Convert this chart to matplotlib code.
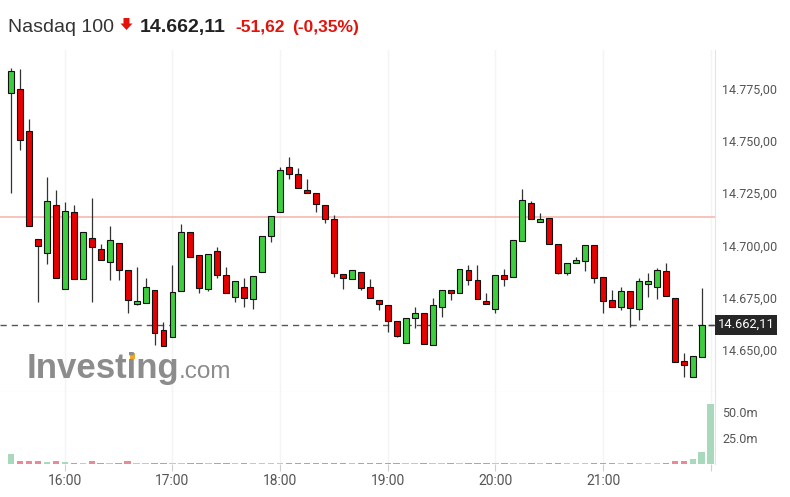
import matplotlib
matplotlib.use('Agg')
import matplotlib.pyplot as plt
import matplotlib.transforms as mtransforms
from matplotlib.patches import Polygon, Rectangle
import numpy as np

# 5-minute candles, 15:30 .. 22:00
opens = [14772.9, 14774.7, 14754.6, 14703.0, 14696.5, 14719.2, 14679.0, 14715.8, 14683.8, 14703.6,
         14698.2, 14692.2, 14701.0, 14688.2, 14672.0, 14672.6, 14678.6, 14659.5, 14656.1, 14678.0,
         14706.5, 14695.4, 14679.0, 14697.1, 14685.8, 14675.4, 14679.9, 14674.2, 14687.4, 14704.3,
         14716.0, 14737.3, 14734.1, 14726.4, 14725.1, 14719.2, 14712.6, 14686.3, 14683.8, 14687.1,
         14680.2, 14673.9, 14671.5, 14663.7, 14653.5, 14665.4, 14667.8, 14652.2, 14670.7, 14678.6,
         14677.4, 14688.2, 14683.4, 14673.5, 14669.7, 14685.7, 14685.0, 14702.2, 14720.3, 14711.3,
         14713.2, 14700.6, 14686.9, 14691.7, 14692.6, 14700.0, 14685.0, 14673.9, 14670.7, 14678.0,
         14669.4, 14681.4, 14680.2, 14687.7, 14675.0, 14644.7, 14637.2, 14646.8, 14662.11]
highs = [14784.5, 14784.1, 14760.2, 14703.0, 14732.8, 14726.3, 14720.7, 14719.1, 14706.2, 14722.6,
         14700.5, 14709.4, 14701.0, 14688.2, 14689.6, 14684.2, 14678.6, 14663.4, 14690.4, 14710.2,
         14706.5, 14695.4, 14695.8, 14699.3, 14689.6, 14682.9, 14684.2, 14685.2, 14704.3, 14714.0,
         14737.3, 14742.3, 14736.8, 14731.5, 14725.1, 14719.2, 14714.5, 14686.3, 14688.2, 14687.1,
         14683.8, 14673.9, 14671.5, 14663.7, 14665.4, 14670.7, 14667.8, 14674.7, 14678.6, 14678.6,
         14688.7, 14690.6, 14690.6, 14677.1, 14685.7, 14688.5, 14702.4, 14726.7, 14721.3, 14715.3,
         14713.2, 14700.6, 14691.7, 14694.6, 14700.0, 14700.0, 14685.0, 14678.6, 14680.2, 14678.0,
         14684.2, 14686.6, 14689.0, 14691.7, 14675.0, 14648.4, 14647.1, 14679.6, 14662.11]
lows = [14725.1, 14745.5, 14709.4, 14673.1, 14691.2, 14684.2, 14679.0, 14683.8, 14683.8, 14672.8,
        14693.0, 14683.4, 14683.4, 14667.5, 14671.5, 14672.6, 14652.4, 14651.9, 14656.1, 14678.0,
        14694.6, 14677.1, 14678.2, 14684.2, 14677.4, 14672.8, 14670.7, 14669.7, 14687.4, 14701.4,
        14716.0, 14731.8, 14727.4, 14725.1, 14716.0, 14710.5, 14685.0, 14679.3, 14683.8, 14678.6,
        14674.8, 14669.1, 14658.7, 14656.1, 14653.5, 14660.6, 14652.9, 14652.2, 14665.9, 14673.9,
        14677.4, 14680.9, 14674.5, 14672.0, 14667.8, 14680.6, 14685.0, 14702.2, 14712.6, 14711.3,
        14700.5, 14686.3, 14685.7, 14691.7, 14687.7, 14681.8, 14667.8, 14670.7, 14669.1, 14661.1,
        14664.3, 14675.4, 14674.5, 14675.9, 14644.4, 14637.0, 14637.2, 14646.8, 14662.11]
closes = [14783.3, 14750.3, 14709.4, 14699.8, 14721.0, 14684.2, 14716.2, 14683.8, 14706.2, 14699.3,
          14693.0, 14702.4, 14688.1, 14673.7, 14673.3, 14679.9, 14658.3, 14651.9, 14677.6, 14706.2,
          14694.6, 14679.7, 14695.8, 14685.7, 14677.4, 14682.9, 14674.8, 14685.2, 14704.3, 14714.0,
          14736.0, 14734.1, 14727.4, 14725.1, 14719.7, 14712.6, 14686.9, 14684.2, 14688.2, 14679.6,
          14674.8, 14672.0, 14664.0, 14656.8, 14665.4, 14667.8, 14652.9, 14671.3, 14678.6, 14677.4,
          14688.7, 14683.4, 14674.5, 14672.0, 14685.7, 14683.8, 14702.4, 14721.5, 14712.6, 14712.6,
          14700.5, 14686.9, 14691.7, 14693.0, 14700.0, 14684.4, 14673.3, 14670.7, 14678.0, 14670.1,
          14682.8, 14682.8, 14688.2, 14675.9, 14644.4, 14642.7, 14647.1, 14662.11, 14662.11]
# volume in millions
volumes = [9.6, 2.6, 2.6, 2.6, 2.0, 2.6, 2.0, 0.8, 0.7, 2.6,
           0.7, 0.7, 0.7, 2.6, 0.8, 0.7, 0.8, 0.8, 0.7, 0.8,
           0.7, 0.8, 0.7, 0.8, 0.8, 0.7, 0.7, 0.8, 0.7, 0.7,
           0.8, 0.7, 0.8, 0.7, 0.8, 0.8, 0.9, 0.7, 0.7, 0.8,
           0.8, 0.7, 0.8, 0.8, 0.7, 0.7, 0.8, 0.8, 0.7, 0.7,
           0.8, 0.8, 0.8, 0.7, 0.7, 0.7, 0.8, 0.8, 0.8, 0.7,
           0.8, 0.8, 0.7, 0.7, 0.7, 0.8, 0.8, 0.7, 0.7, 0.8,
           0.7, 0.7, 0.8, 0.9, 2.6, 2.6, 5.1, 11.5, 57.4]

last_price = 14662.11
prev_close = 14713.73
price_ticks = [14650, 14675, 14700, 14725, 14750, 14775]
hour_idx = [6, 18, 30, 42, 54, 66, 78]
hour_labels = ['16:00', '17:00', '18:00', '19:00', '20:00', '21:00', '']
vol_ticks = [25, 50]
vol_labels = ['25.0m', '50.0m']

GREEN = '#3dce3d'
RED = '#e60000'
VGREEN = '#a8d9bd'
VRED = '#e88a9a'
W, H = 790, 497

def fx(px):
    return px / W

def fy(py):
    return 1 - py / H

def de_fmt(v):
    return f'{v:,.2f}'.replace(',', 'X').replace('.', ',').replace('X', '.')

o = np.array(opens)
h = np.array(highs)
l = np.array(lows)
c = np.array(closes)
x = np.arange(len(o))
up = c >= o

fig = plt.figure(figsize=(7.9, 4.97), dpi=100)
ax = fig.add_axes([0, fy(392), fx(715), fy(50) - fy(392)])
axv = fig.add_axes([0, fy(464), fx(715), fy(392) - fy(464)])

for a in (ax, axv):
    a.set_xlim(-1.226, 78.48)
    for s in ('top', 'left'):
        a.spines[s].set_visible(False)
    a.spines['right'].set_color('#e4e4e4')
    for i in hour_idx:
        a.axvline(i, color='#f4f4f4', lw=1, zorder=0)

ax.spines['bottom'].set_color('#cccccc')
axv.spines['bottom'].set_visible(False)
ax.set_ylim(14629.9, 14793.3)

# candles
ax.vlines(x, l, h, color='#333333', lw=0.9, zorder=2)
body_lo = np.minimum(o, c)
body_h = np.maximum(np.abs(c - o), 0.6)
colors = np.where(up, GREEN, RED)
ax.bar(x[:-1], body_h[:-1], bottom=body_lo[:-1], width=0.66,
       color=colors[:-1], edgecolor='#111111', linewidth=0.8, zorder=3)
ax.hlines(c[-1], x[-1] - 0.33, x[-1] + 0.33, color='#444444', lw=1, zorder=3)

ax.axhline(prev_close, color='#f6b8b0', lw=1.2, zorder=1)
ax.axhline(last_price, color='#555555', lw=1, dashes=(4.5, 3.6), zorder=1)

ax.set_xticks([])
ax.yaxis.tick_right()
ax.set_yticks(price_ticks)
ax.set_yticklabels([de_fmt(v) for v in price_ticks])
ax.tick_params(axis='y', length=0, pad=5, labelsize=9, labelcolor='#555555')
for t in ax.get_yticklabels():
    t.set_family('Roboto')

# last price tag
blend = mtransforms.blended_transform_factory(ax.transAxes, ax.transData)
ax.add_patch(Rectangle((1.0, last_price - 4.8), 62 / 715, 9.6, transform=blend,
                       facecolor='#262626', edgecolor='none', clip_on=False, zorder=5))
ax.text(1.0 + 31 / 715, last_price, de_fmt(last_price), transform=blend, ha='center', va='center',
        color='white', fontsize=9.3, family='Roboto', zorder=6, clip_on=False)

# volume
vcol = np.where(up, VGREEN, VRED)
vcol[-1] = VGREEN
axv.bar(x, volumes, width=0.72, color=vcol, zorder=2)
axv.set_ylim(0, 69.2)
axv.yaxis.tick_right()
axv.set_yticks(vol_ticks)
axv.set_yticklabels(vol_labels)
axv.tick_params(axis='y', length=0, pad=5, labelsize=9, labelcolor='#555555')
axv.set_xticks(hour_idx)
axv.set_xticklabels(hour_labels)
axv.tick_params(axis='x', length=5, color='#d0d0d0', pad=2.5, labelsize=10, labelcolor='#555555')
for t in axv.get_yticklabels() + axv.get_xticklabels():
    t.set_family('Roboto')

# header
base = fy(32)
fig.text(fx(8), base, 'Nasdaq 100', fontsize=14, color='#333333', family='Liberation Sans', va='baseline')
arrow = [(123.5, 18), (129.5, 18), (129.5, 23.5), (132.5, 23.5), (126.5, 30), (120.5, 23.5), (123.5, 23.5)]
fig.patches.append(Polygon([(fx(px), fy(py)) for px, py in arrow], closed=True,
                           transform=fig.transFigure, facecolor='#e3120b', edgecolor='none'))
fig.text(fx(140), base, '14.662,11', fontsize=14, weight='bold', color='#222222',
         family='Liberation Sans', va='baseline')
fig.text(fx(235), base, '-51,62', fontsize=12.5, weight='bold', color='#e3120b',
         family='Liberation Sans', va='baseline')
fig.text(fx(292), base, '(-0,35%)', fontsize=12.5, weight='bold', color='#e3120b',
         family='Liberation Sans', va='baseline')

# watermark
wm = dict(fontsize=25, weight='bold', color='#8c8c8c', family='Liberation Sans', va='baseline')
fig.text(fx(27), fy(378), 'Investing', **wm)
fig.text(fx(179), fy(378), '.com', fontsize=17.5, color='#8c8c8c',
         family='Liberation Sans', va='baseline')
# orange dot over the second "i"
renderer = fig.canvas.get_renderer()
probe = fig.text(fx(27), fy(378), 'Invest', **wm)
w_pre = probe.get_window_extent(renderer).width
probe_i = fig.text(fx(27), fy(378), 'i', **wm)
w_i = probe_i.get_window_extent(renderer).width
probe.remove()
probe_i.remove()
dot_cx = 27 + w_pre + w_i / 2
fig.patches.append(Rectangle((fx(dot_cx - 2.8), fy(359)), fx(5.6), fy(353) - fy(359),
                             transform=fig.transFigure, facecolor='#f5a623', edgecolor='none'))

fig.savefig('out.png', dpi=100)
